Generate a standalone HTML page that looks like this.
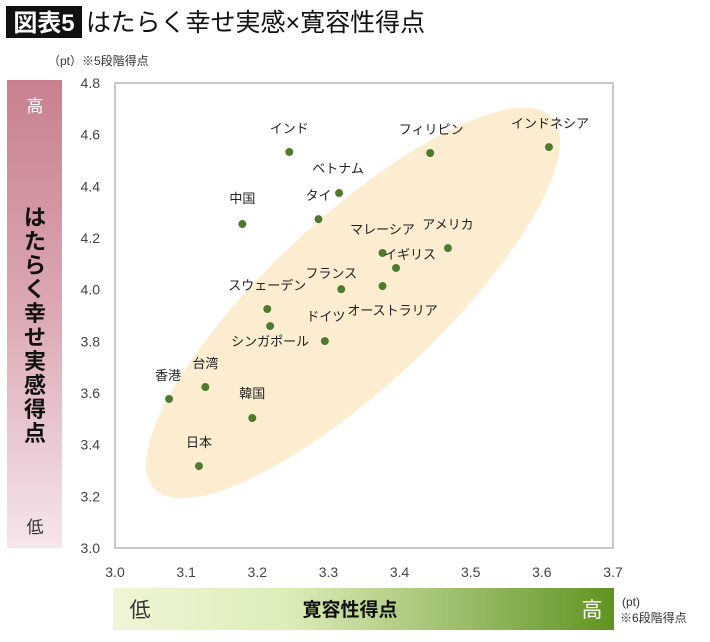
<!DOCTYPE html>
<html><head><meta charset="utf-8">
<style>
body{margin:0;background:#fff;width:710px;height:637px;overflow:hidden;font-family:"Liberation Sans","Noto Sans CJK JP",sans-serif;}
svg text{font-family:"Liberation Sans","Noto Sans CJK JP",sans-serif;}
</style></head>
<body>
<svg id="chart" width="710" height="637" viewBox="0 0 710 637">
<defs>
<linearGradient id="pinkG" x1="0" y1="0" x2="0" y2="1">
<stop offset="0" stop-color="#c7808f"/><stop offset="0.5" stop-color="#dca9b4"/><stop offset="1" stop-color="#f5e6ea"/>
</linearGradient>
<linearGradient id="greenG" x1="0" y1="0" x2="1" y2="0">
<stop offset="0" stop-color="#eef7d6"/><stop offset="0.35" stop-color="#dcedb8"/><stop offset="0.7" stop-color="#9bbd6a"/><stop offset="1" stop-color="#5f9420"/>
</linearGradient>
</defs>
<rect x="6" y="6" width="76" height="32" fill="#111"/>
<text x="44" y="31" font-size="24" font-weight="bold" fill="#fff" text-anchor="middle">図表5</text>
<text x="86" y="31" font-size="25" fill="#111">はたらく幸せ実感×寛容性得点</text>
<text x="48" y="65" font-size="12" fill="#333">（pt）※5段階得点</text>
<rect x="7" y="80" width="55" height="468" fill="url(#pinkG)"/>
<text x="35" y="112" font-size="17" fill="#fff" text-anchor="middle">高</text>
<text x="35" y="533" font-size="17" fill="#333" text-anchor="middle">低</text>
<text font-size="22" font-weight="bold" fill="#111" text-anchor="middle"><tspan x="35" y="225">は</tspan><tspan x="35" y="249">た</tspan><tspan x="35" y="273">ら</tspan><tspan x="35" y="297">く</tspan><tspan x="35" y="321">幸</tspan><tspan x="35" y="345">せ</tspan><tspan x="35" y="369">実</tspan><tspan x="35" y="393">感</tspan><tspan x="35" y="417">得</tspan><tspan x="35" y="441">点</tspan></text>
<rect x="113" y="588" width="501" height="42" fill="url(#greenG)"/>
<text x="140" y="617" font-size="21" fill="#333" text-anchor="middle">低</text>
<text x="592" y="617" font-size="21" fill="#fff" text-anchor="middle">高</text>
<text x="350" y="616" font-size="19" font-weight="bold" fill="#111" text-anchor="middle">寛容性得点</text>
<text x="622" y="606" font-size="12" fill="#333">(pt)</text>
<text x="620" y="622" font-size="12" fill="#333">※6段階得点</text>
<rect x="115" y="83" width="498" height="465" fill="#fff" stroke="#b5b5b5" stroke-width="1.5"/>
<g id="ticks"></g>
<ellipse cx="353" cy="303" rx="272" ry="84" fill="#fcecd0" transform="rotate(-43 353 303)"/>
<g id="marks"></g>
</svg>
<script>
const countries = ["インド","インドネシア","フィリピン","ベトナム","タイ","中国","アメリカ","マレーシア","イギリス","フランス","オーストラリア","スウェーデン","シンガポール","ドイツ","台湾","香港","韓国","日本"];
const tolerance = [3.245,3.610,3.443,3.315,3.286,3.179,3.468,3.376,3.395,3.318,3.376,3.214,3.218,3.295,3.127,3.076,3.193,3.118];
const happiness = [4.533,4.552,4.529,4.374,4.273,4.254,4.161,4.142,4.084,4.002,4.014,3.925,3.859,3.801,3.623,3.577,3.503,3.317];
const xTicks = ["3.0","3.1","3.2","3.3","3.4","3.5","3.6","3.7"];
const yTicks = ["3.0","3.2","3.4","3.6","3.8","4.0","4.2","4.4","4.6","4.8"];
const labelOffsets = [[0,-19],[1,-19],[1,-19],[-1,-20],[0,-19],[0,-21],[0,-19],[0,-19],[14,-9],[-10,-11],[10,29],[0,-19],[0,20],[1,-20],[0,-19],[-1,-19],[0,-20],[0,-19]];
const X = v => 115 + (v - 3.0) / 0.7 * 498;
const Y = v => 548 - (v - 3.0) / 1.8 * 465;
const NS = "http://www.w3.org/2000/svg";
const tg = document.getElementById('ticks');
xTicks.forEach(t => {
  const e = document.createElementNS(NS, 'text');
  
  
  e.setAttribute('x', X(parseFloat(t)));
  e.setAttribute('y', 577);
  e.setAttribute('font-size', '14');
  e.setAttribute('fill', '#444');
  e.setAttribute('text-anchor', 'middle');
  e.textContent = t;
  tg.appendChild(e);
});
yTicks.forEach(t => {
  const e = document.createElementNS(NS, 'text');
  
  
  e.setAttribute('x', 100);
  e.setAttribute('y', Y(parseFloat(t)) + 5);
  e.setAttribute('font-size', '14');
  e.setAttribute('fill', '#444');
  e.setAttribute('text-anchor', 'end');
  e.textContent = t;
  tg.appendChild(e);
});
const mg = document.getElementById('marks');
countries.forEach((c, i) => {
  const cx = X(tolerance[i]), cy = Y(happiness[i]);
  const p = document.createElementNS(NS, 'circle');
  
  
  p.setAttribute('cx', cx);
  p.setAttribute('cy', cy);
  p.setAttribute('r', 4);
  p.setAttribute('fill', '#4e7a2e');
  mg.appendChild(p);
  const l = document.createElementNS(NS, 'text');
  
  
  l.setAttribute('x', cx + labelOffsets[i][0]);
  l.setAttribute('y', cy + labelOffsets[i][1]);
  l.setAttribute('font-size', '13');
  l.setAttribute('fill', '#222');
  l.setAttribute('text-anchor', 'middle');
  l.textContent = c;
  mg.appendChild(l);
});
</script>
</body></html>
